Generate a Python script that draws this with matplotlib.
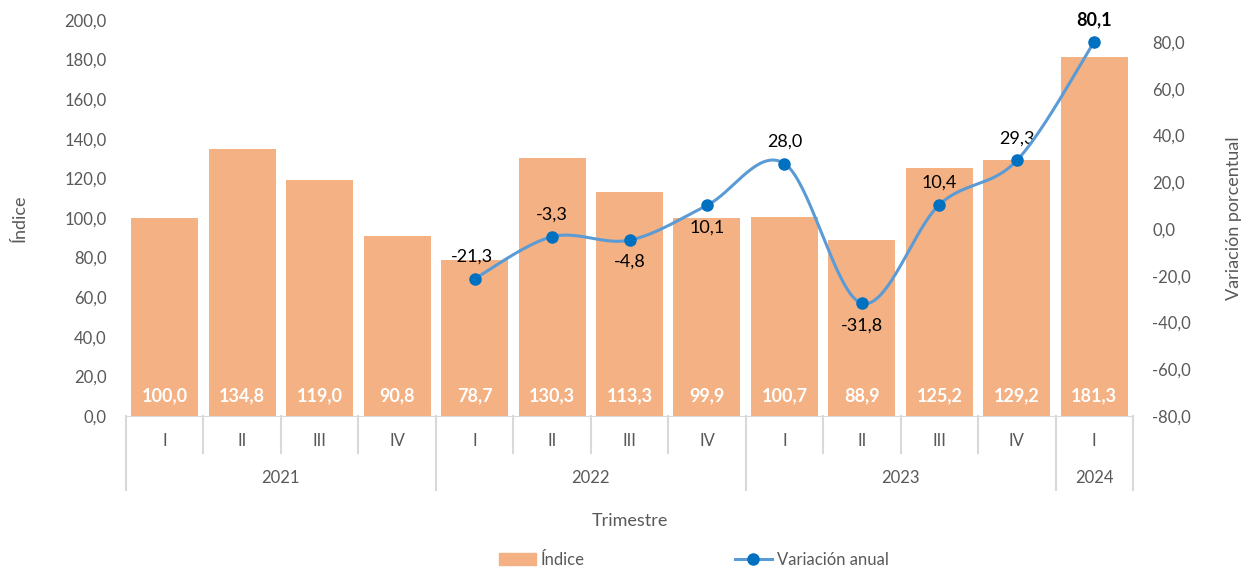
import numpy as np
import matplotlib
matplotlib.use('Agg')
from matplotlib import pyplot as plt
from matplotlib.lines import Line2D
from matplotlib.patches import Patch
import matplotlib.transforms as mtransforms

plt.rcParams['font.family'] = ['Lato', 'DejaVu Sans']

quarters = ['I', 'II', 'III', 'IV', 'I', 'II', 'III', 'IV', 'I', 'II', 'III', 'IV', 'I']
years = ['2021', '2022', '2023', '2024']
quarters_per_year = [4, 4, 4, 1]
indice = [100.0, 134.8, 119.0, 90.8, 78.7, 130.3, 113.3, 99.9, 100.7, 88.9, 125.2, 129.2, 181.3]
variacion = [-21.3, -3.3, -4.8, 10.1, 28.0, -31.8, 10.4, 29.3, 80.1]
var_start = 4  # first quarter with variacion (2022 I)

BAR_COLOR = '#F4B183'
LINE_COLOR = '#5B9BD5'
MARK_COLOR = '#0070C0'
GRAY = '#595959'
SEP = '#D9D9D9'

fig = plt.figure(figsize=(12.47, 5.68), dpi=100)
ax = fig.add_axes([126 / 1247, 1 - 416 / 568, (1133 - 126) / 1247, 396 / 568])
ax2 = ax.twinx()

x = np.arange(len(indice))
ax.bar(x, indice, width=0.865, color=BAR_COLOR, zorder=2)
for xi, v in zip(x, indice):
    ax.text(xi, 10, f'{v:.1f}'.replace('.', ','), ha='center', va='center',
            color='white', fontsize=13, fontweight='bold', zorder=3)

ax.set_xlim(-0.5, len(indice) - 0.5)
ax.set_ylim(0, 200)
ax.set_yticks(np.arange(0, 201, 20))
ax.set_yticklabels([f'{v:.1f}'.replace('.', ',') for v in np.arange(0, 201, 20)])
ax.set_xticks([])
for s in ['top', 'right', 'left']:
    ax.spines[s].set_visible(False)
ax.spines['bottom'].set_color(SEP)
ax.tick_params(axis='y', length=0, labelsize=12, labelcolor=GRAY, pad=14)
ax.set_ylabel('Índice', fontsize=13, color=GRAY)
ax.yaxis.set_label_coords(-0.098, 0.5)

# smoothed line (Excel style bezier through points)
vx = np.arange(var_start, var_start + len(variacion), dtype=float)
vy = np.array(variacion)
pts = np.column_stack([vx, vy])
ext = np.vstack([pts[0], pts, pts[-1]])
curve = []
t = np.linspace(0, 1, 40)[:, None]
for i in range(len(pts) - 1):
    p0, p1, p2, p3 = ext[i], ext[i + 1], ext[i + 2], ext[i + 3]
    c1 = p1 + (p2 - p0) / 6
    c2 = p2 - (p3 - p1) / 6
    seg = ((1 - t) ** 3) * p1 + 3 * ((1 - t) ** 2) * t * c1 + 3 * (1 - t) * t ** 2 * c2 + t ** 3 * p2
    curve.append(seg)
curve = np.vstack(curve)
ax2.plot(curve[:, 0], curve[:, 1], color=LINE_COLOR, lw=2.2, zorder=4)
ax2.plot(vx, vy, 'o', color=MARK_COLOR, ms=8, zorder=5)

label_pos = ['ul', 'a', 'b', 'b', 'a', 'b', 'a', 'a', 'a']
for xi, v, p in zip(vx, vy, label_pos):
    s = f'{v:.1f}'.replace('.', ',')
    w = 'bold' if xi == vx[-1] else 'normal'
    if p == 'a':
        ax2.annotate(s, (xi, v), xytext=(0, 10), textcoords='offset points', ha='center', va='bottom',
                     fontsize=13, fontweight=w, color='black')
    elif p == 'b':
        ax2.annotate(s, (xi, v), xytext=(0, -10), textcoords='offset points', ha='center', va='top',
                     fontsize=13, color='black')
    else:
        ax2.annotate(s, (xi, v), xytext=(-2, 10), textcoords='offset points', ha='center', va='bottom',
                     fontsize=13, color='black')

ax2.set_ylim(-80, 89.4)
ax2.set_yticks(np.arange(-80, 81, 20))
ax2.set_yticklabels([f'{v:.1f}'.replace('.', ',') for v in np.arange(-80, 81, 20)])
for s in ['top', 'right', 'left', 'bottom']:
    ax2.spines[s].set_visible(False)
ax2.tick_params(axis='y', length=0, labelsize=12, labelcolor=GRAY, pad=14)
ax2.set_ylabel('Variación porcentual', fontsize=13, color=GRAY)
ax2.yaxis.set_label_coords(1.092, 0.5)

# multi level category axis
trans = mtransforms.blended_transform_factory(ax.transData, ax.transAxes)
q_bot = -37 / 396
y_bot = -74 / 396
boundaries = np.cumsum([0] + quarters_per_year) - 0.5
for b in np.arange(-0.5, len(quarters), 1.0):
    low = y_bot if b in boundaries else q_bot
    ax.add_line(Line2D([b, b], [0, low], transform=trans, color=SEP, lw=1.5, clip_on=False))
for xi, q in zip(x, quarters):
    ax.text(xi, -25 / 396, q, transform=trans, ha='center', va='center', fontsize=12, color=GRAY)
for i, yname in enumerate(years):
    mid = (boundaries[i] + boundaries[i + 1]) / 2
    ax.text(mid, -62 / 396, yname, transform=trans, ha='center', va='center', fontsize=12, color=GRAY)
ax.text(0.5, -105 / 396, 'Trimestre', transform=ax.transAxes, ha='center', va='center',
        fontsize=13, color=GRAY)

handles = [Patch(color=BAR_COLOR),
           Line2D([], [], color=LINE_COLOR, lw=2.2, marker='o', ms=8, markerfacecolor=MARK_COLOR,
                  markeredgecolor=MARK_COLOR)]
fig.legend(handles, ['Índice', 'Variación anual'], loc='center', bbox_to_anchor=(694 / 1247, 1 - 560 / 568),
           ncol=2, frameon=False, fontsize=12, labelcolor=GRAY, columnspacing=9, handlelength=2.2,
           handletextpad=0.3)

fig.savefig('out.png', dpi=100)
